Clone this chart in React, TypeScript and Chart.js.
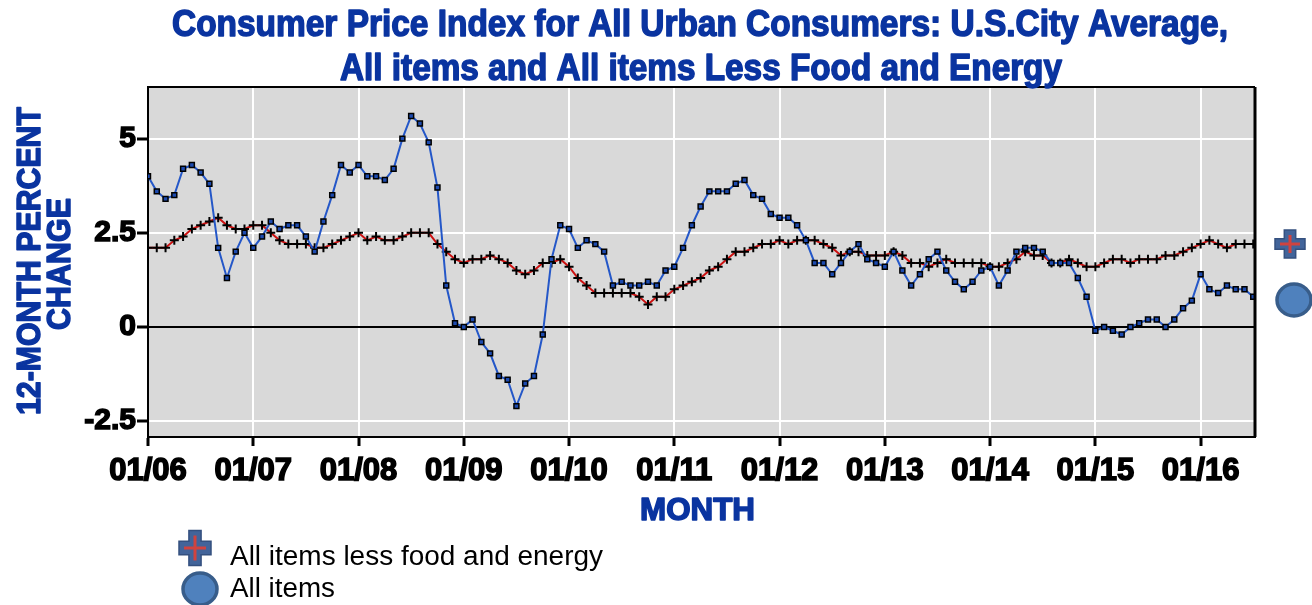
import React, { useEffect, useRef } from 'react';
import { Chart, registerables } from 'chart.js';

Chart.register(...registerables);

// ---- data (12-month percent change, monthly, Jan 2006 .. Jul 2016) ----
const YEAR_TICKS = ['01/06', '01/07', '01/08', '01/09', '01/10', '01/11', '01/12', '01/13', '01/14', '01/15', '01/16'];
const Y_TICKS = [-2.5, 0, 2.5, 5];
const Y_TICK_LABELS = ['-2.5', '0', '2.5', '5'];

const ALL_ITEMS = [
  4.0, 3.6, 3.4, 3.5, 4.2, 4.3, 4.1, 3.8, 2.1, 1.3, 2.0, 2.5,
  2.1, 2.4, 2.8, 2.6, 2.7, 2.7, 2.4, 2.0, 2.8, 3.5, 4.3, 4.1,
  4.3, 4.0, 4.0, 3.9, 4.2, 5.0, 5.6, 5.4, 4.9, 3.7, 1.1, 0.1,
  0.0, 0.2, -0.4, -0.7, -1.3, -1.4, -2.1, -1.5, -1.3, -0.2, 1.8, 2.7,
  2.6, 2.1, 2.3, 2.2, 2.0, 1.1, 1.2, 1.1, 1.1, 1.2, 1.1, 1.5,
  1.6, 2.1, 2.7, 3.2, 3.6, 3.6, 3.6, 3.8, 3.9, 3.5, 3.4, 3.0,
  2.9, 2.9, 2.7, 2.3, 1.7, 1.7, 1.4, 1.7, 2.0, 2.2, 1.8, 1.7,
  1.6, 2.0, 1.5, 1.1, 1.4, 1.8, 2.0, 1.5, 1.2, 1.0, 1.2, 1.5,
  1.6, 1.1, 1.5, 2.0, 2.1, 2.1, 2.0, 1.7, 1.7, 1.7, 1.3, 0.8,
  -0.1, 0.0, -0.1, -0.2, 0.0, 0.1, 0.2, 0.2, 0.0, 0.2, 0.5, 0.7,
  1.4, 1.0, 0.9, 1.1, 1.0, 1.0, 0.8,
];

const CORE = [
  2.1, 2.1, 2.1, 2.3, 2.4, 2.6, 2.7, 2.8, 2.9, 2.7, 2.6, 2.6,
  2.7, 2.7, 2.5, 2.3, 2.2, 2.2, 2.2, 2.1, 2.1, 2.2, 2.3, 2.4,
  2.5, 2.3, 2.4, 2.3, 2.3, 2.4, 2.5, 2.5, 2.5, 2.2, 2.0, 1.8,
  1.7, 1.8, 1.8, 1.9, 1.8, 1.7, 1.5, 1.4, 1.5, 1.7, 1.7, 1.8,
  1.6, 1.3, 1.1, 0.9, 0.9, 0.9, 0.9, 0.9, 0.8, 0.6, 0.8, 0.8,
  1.0, 1.1, 1.2, 1.3, 1.5, 1.6, 1.8, 2.0, 2.0, 2.1, 2.2, 2.2,
  2.3, 2.2, 2.3, 2.3, 2.3, 2.2, 2.1, 1.9, 2.0, 2.0, 1.9, 1.9,
  1.9, 2.0, 1.9, 1.7, 1.7, 1.6, 1.7, 1.8, 1.7, 1.7, 1.7, 1.7,
  1.6, 1.6, 1.7, 1.8, 2.0, 1.9, 1.9, 1.7, 1.7, 1.8, 1.7, 1.6,
  1.6, 1.7, 1.8, 1.8, 1.7, 1.8, 1.8, 1.8, 1.9, 1.9, 2.0, 2.1,
  2.2, 2.3, 2.2, 2.1, 2.2, 2.2, 2.2,
];

const TITLE_LINES = [
  'Consumer Price Index for All Urban Consumers: U.S.City Average,',
  'All items and All items Less Food and Energy',
];
const Y_TITLE_LINES = ['12-MONTH PERCENT', 'CHANGE'];
const X_TITLE = 'MONTH';
const SERIES_NAMES = ['All items less food and energy', 'All items'];

const BLUE_TEXT = '#0a34a0';

function fitText(ctx: CanvasRenderingContext2D, text: string, x: number, y: number, w: number, stroke = 0) {
  const mw = ctx.measureText(text).width;
  ctx.save();
  ctx.translate(x, y);
  ctx.scale(w / mw, 1);
  ctx.textAlign = 'left';
  ctx.textBaseline = 'alphabetic';
  ctx.fillText(text, 0, 0);
  if (stroke > 0) {
    ctx.strokeStyle = ctx.fillStyle as string;
    ctx.lineWidth = stroke;
    ctx.lineJoin = 'round';
    ctx.strokeText(text, 0, 0);
  }
  ctx.restore();
}

function drawPlus(ctx: CanvasRenderingContext2D, cx: number, cy: number, w: number, h: number) {
  const tw = w * 0.38;
  const th = h * 0.38;
  ctx.save();
  ctx.beginPath();
  ctx.moveTo(cx - tw / 2, cy - h / 2);
  ctx.lineTo(cx + tw / 2, cy - h / 2);
  ctx.lineTo(cx + tw / 2, cy - th / 2);
  ctx.lineTo(cx + w / 2, cy - th / 2);
  ctx.lineTo(cx + w / 2, cy + th / 2);
  ctx.lineTo(cx + tw / 2, cy + th / 2);
  ctx.lineTo(cx + tw / 2, cy + h / 2);
  ctx.lineTo(cx - tw / 2, cy + h / 2);
  ctx.lineTo(cx - tw / 2, cy + th / 2);
  ctx.lineTo(cx - w / 2, cy + th / 2);
  ctx.lineTo(cx - w / 2, cy - th / 2);
  ctx.lineTo(cx - tw / 2, cy - th / 2);
  ctx.closePath();
  ctx.fillStyle = '#42649a';
  ctx.fill();
  ctx.strokeStyle = '#34507f';
  ctx.lineWidth = 1.5;
  ctx.stroke();
  ctx.strokeStyle = '#d0433f';
  ctx.lineWidth = 3;
  ctx.beginPath();
  ctx.moveTo(cx, cy - h / 2 + 5);
  ctx.lineTo(cx, cy + h / 2 - 5);
  ctx.moveTo(cx - w / 2 + 5, cy);
  ctx.lineTo(cx + w / 2 - 5, cy);
  ctx.stroke();
  ctx.restore();
}

function drawCircle(ctx: CanvasRenderingContext2D, cx: number, cy: number, rx: number, ry: number) {
  ctx.save();
  ctx.beginPath();
  ctx.ellipse(cx, cy, rx, ry, 0, 0, Math.PI * 2);
  ctx.fillStyle = '#4f81bd';
  ctx.fill();
  ctx.strokeStyle = '#385d8a';
  ctx.lineWidth = 3.5;
  ctx.stroke();
  ctx.restore();
}

const decorPlugin = {
  id: 'decor',
  beforeDraw(chart: any) {
    const { ctx, chartArea } = chart;
    ctx.save();
    ctx.fillStyle = '#ffffff';
    ctx.fillRect(0, 0, chart.width, chart.height);
    ctx.fillStyle = '#d9d9d9';
    ctx.fillRect(chartArea.left, chartArea.top, chartArea.right - chartArea.left, chartArea.bottom - chartArea.top);
    ctx.restore();
  },
  afterDraw(chart: any) {
    const { ctx, chartArea } = chart;
    ctx.save();
    // frame top / right
    ctx.strokeStyle = '#000';
    ctx.lineWidth = 2;
    ctx.beginPath();
    ctx.moveTo(chartArea.left, chartArea.top);
    ctx.lineTo(chartArea.right, chartArea.top);
    ctx.stroke();
    ctx.lineWidth = 3;
    ctx.beginPath();
    ctx.moveTo(chartArea.right, chartArea.top);
    ctx.lineTo(chartArea.right, chartArea.bottom);
    ctx.stroke();

    // title
    ctx.fillStyle = BLUE_TEXT;
    ctx.font = 'bold 36px "Liberation Sans", Arial, sans-serif';
    fitText(ctx, TITLE_LINES[0], 172, 36, 1056, 1.5);
    fitText(ctx, TITLE_LINES[1], 340, 80, 722, 1.5);

    // y title (rotated)
    ctx.font = 'bold 34px "Liberation Sans", Arial, sans-serif';
    ctx.save();
    ctx.translate(40, 415);
    ctx.rotate(-Math.PI / 2);
    fitText(ctx, Y_TITLE_LINES[0], 0, 0, 308, 1.5);
    ctx.restore();
    ctx.save();
    ctx.translate(70, 330);
    ctx.rotate(-Math.PI / 2);
    fitText(ctx, Y_TITLE_LINES[1], 0, 0, 132, 1.5);
    ctx.restore();

    // x title
    ctx.font = 'bold 31px "Liberation Sans", Arial, sans-serif';
    fitText(ctx, X_TITLE, 640, 520, 115, 1.5);

    // bottom legend
    drawPlus(ctx, 195, 548, 32, 35);
    drawCircle(ctx, 200, 589, 17, 16);
    ctx.fillStyle = '#000';
    ctx.font = '27px "Liberation Sans", Arial, sans-serif';
    fitText(ctx, SERIES_NAMES[0], 230, 565, 373);
    fitText(ctx, SERIES_NAMES[1], 230, 597, 105);

    // right-side icons
    drawPlus(ctx, 1290, 244, 30, 28);
    drawCircle(ctx, 1294, 300, 17, 16);
    ctx.restore();
  },
};

export default function App() {
  const ref = useRef<HTMLCanvasElement | null>(null);

  useEffect(() => {
    if (!ref.current) return;
    const allPts = ALL_ITEMS.map((v, i) => ({ x: i, y: v }));
    const corePts = CORE.map((v, i) => ({ x: i, y: v }));
    const chart = new Chart(ref.current, {
      type: 'line',
      data: {
        datasets: [
          {
            label: SERIES_NAMES[1],
            data: allPts,
            borderColor: '#2457c8',
            borderWidth: 2,
            pointStyle: 'rect',
            pointRadius: 3.5,
            pointBackgroundColor: '#1d4bb0',
            pointBorderColor: '#000',
            pointBorderWidth: 1.5,
            tension: 0,
          },
          {
            label: SERIES_NAMES[0],
            data: corePts,
            borderColor: '#cc1111',
            borderWidth: 2,
            pointStyle: 'cross',
            pointRadius: 4.5,
            pointBorderColor: '#000',
            pointBorderWidth: 2,
            tension: 0,
          },
        ],
      },
      options: {
        animation: false,
        responsive: false,
        devicePixelRatio: 1,
        layout: { padding: { top: 87, right: 57, bottom: 118, left: 0 } },
        plugins: {
          legend: { display: false },
          title: { display: false },
          tooltip: { enabled: false },
        },
        scales: {
          x: {
            type: 'linear',
            min: 0,
            max: 126.2,
            afterBuildTicks: (scale: any) => {
              scale.ticks = YEAR_TICKS.map((_, i) => ({ value: i * 12 }));
            },
            afterFit: (scale: any) => {
              scale.height = 50;
            },
            ticks: {
              autoSkip: false,
              maxRotation: 0,
              minRotation: 0,
              padding: 7,
              color: '#000',
              textStrokeColor: '#000',
              textStrokeWidth: 1.5,
              font: { family: '"Liberation Sans", Arial, sans-serif', weight: 'bold', size: 31 },
              callback: (v: any) => YEAR_TICKS[Math.round(Number(v) / 12)] ?? '',
            },
            grid: {
              color: '#ffffff',
              lineWidth: 2,
              drawTicks: true,
              tickLength: 9,
              tickWidth: 3,
              tickColor: '#000',
            },
            border: { display: true, color: '#000', width: 2 },
          },
          y: {
            type: 'linear',
            min: -2.92,
            max: 6.37,
            afterBuildTicks: (scale: any) => {
              scale.ticks = Y_TICKS.map((v) => ({ value: v }));
            },
            afterFit: (scale: any) => {
              scale.width = 148;
            },
            ticks: {
              padding: 1,
              color: '#000',
              textStrokeColor: '#000',
              textStrokeWidth: 1.5,
              font: { family: '"Liberation Sans", Arial, sans-serif', weight: 'bold', size: 30 },
              callback: (v: any) => {
                const idx = Y_TICKS.indexOf(Number(v));
                return idx >= 0 ? Y_TICK_LABELS[idx] : '';
              },
            },
            grid: {
              color: (c: any) => (c.tick && c.tick.value === 0 ? '#000000' : '#ffffff'),
              lineWidth: 2,
              drawTicks: true,
              tickLength: 11,
              tickWidth: 3,
              tickColor: '#000',
            },
            border: { display: true, color: '#000', width: 2 },
          },
        },
      },
      plugins: [decorPlugin],
    } as any);
    return () => chart.destroy();
  }, []);

  return (
    <div style={{ position: 'absolute', left: 0, top: 0, width: 1312, height: 605, background: '#fff' }}>
      <canvas ref={ref} width={1312} height={605} style={{ display: 'block', width: 1312, height: 605 }} />
    </div>
  );
}
